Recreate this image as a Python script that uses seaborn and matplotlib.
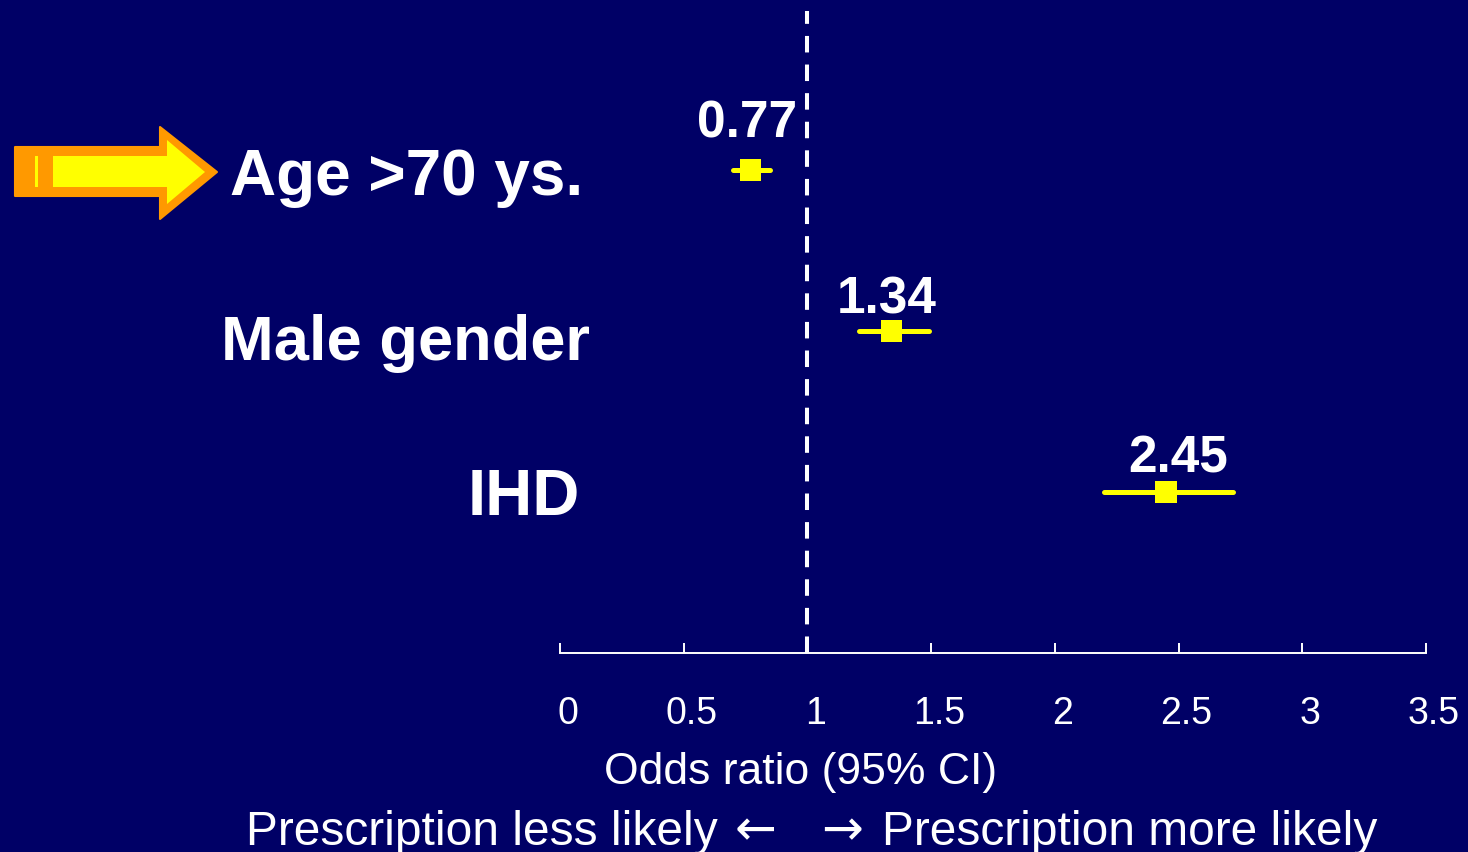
import matplotlib
matplotlib.use("Agg")
import matplotlib.pyplot as plt
import matplotlib.transforms as mtransforms
from matplotlib.patches import Polygon, Rectangle
import pandas as pd
import seaborn as sns

# ---- data ----
factors = ["Age >70 ys.", "Male gender", "IHD"]
odds_ratio = [0.77, 1.34, 2.45]
ci_low = [0.70, 1.21, 2.20]
ci_high = [0.85, 1.49, 2.72]
x_ticks = [0, 0.5, 1, 1.5, 2, 2.5, 3, 3.5]
x_tick_labels = ["0", "0.5", "1", "1.5", "2", "2.5", "3", "3.5"]

BG = "#000066"
YELLOW = "#FFFF00"
ORANGE = "#FF9900"
W, H = 1468, 853

sns.set_theme(style="white")
plt.rcParams["font.family"] = ["Liberation Sans", "DejaVu Sans"]

fig = plt.figure(figsize=(W / 100, H / 100), dpi=100, facecolor=BG)
ax = fig.add_axes([560 / W, (H - 654) / H, 866 / W, 654 / H])
ax.set_facecolor(BG)

df = pd.DataFrame({"factor": factors, "or": odds_ratio,
                   "lo": ci_low, "hi": ci_high})
df["row"] = range(len(df))

# reference line at OR = 1
ax.axvline(1.0, ymin=0, ymax=(654 - 12) / 654, color="white",
           lw=2.9, linestyle=(0, (4.1, 3.0)), zorder=1)

# confidence intervals
ci = ax.hlines(df["row"], df["lo"], df["hi"], color=YELLOW, lw=3.6, zorder=2)
ci.set_capstyle("round")

# point estimates
sns.scatterplot(data=df, x="or", y="row", marker="s", s=240, color=YELLOW,
                edgecolor="none", linewidth=0, ax=ax, zorder=3, legend=False)

ax.set_xlim(0, 3.5)
ax.set_ylim(3.0, -171 / 161)

# value labels above each marker (offsets in pixels)
label_offsets = [(-3.5, 34), (-4.5, 19), (11.5, 20)]
for (_, r), (dx, dy) in zip(df.iterrows(), label_offsets):
    ax.annotate(f"{r['or']:.2f}", (r["or"], r["row"]), xytext=(dx, dy),
                textcoords="offset pixels", ha="center", va="baseline",
                fontsize=37, fontweight="bold", color="white")

# factor names on the left
name_pos = [(230, 195, 46), (221, 360, 45.5), (468, 515, 47)]
for name, (px, py, fs) in zip(factors, name_pos):
    fig.text(px / W, 1 - py / H, name, ha="left", va="baseline",
             fontsize=fs, fontweight="bold", color="white")

# axis styling
for side in ["top", "left", "right"]:
    ax.spines[side].set_visible(False)
ax.spines["bottom"].set_color("white")
ax.spines["bottom"].set_linewidth(1.4)
ax.set_yticks([])
ax.set_xticks(x_ticks)
ax.set_xticklabels(x_tick_labels)
ax.tick_params(axis="x", direction="in", length=7.2, width=1.4,
               colors="white", labelsize=27, pad=30.5, bottom=True)
shift = mtransforms.ScaledTranslation(8 / 100, 0, fig.dpi_scale_trans)
for lab in ax.get_xticklabels():
    lab.set_transform(lab.get_transform() + shift)
ax.set_xlabel("")
ax.set_ylabel("")

fig.text(800.5 / W, 1 - 784 / H, "Odds ratio (95% CI)", ha="center",
         va="baseline", fontsize=32, color="white")

# direction caption under the axis
base = 1 - 845 / H
fig.text(718 / W, base, "Prescription less likely", ha="right",
         va="baseline", fontsize=34.5, color="white")
fig.text(882 / W, base, "Prescription more likely", ha="left",
         va="baseline", fontsize=34.5, color="white")
fig.text(756 / W, base, "\u2190", ha="center", va="baseline",
         fontsize=36, color="white", family="DejaVu Sans")
fig.text(842 / W, base, "\u2192", ha="center", va="baseline",
         fontsize=36, color="white", family="DejaVu Sans")


# highlight arrow pointing at the first factor
def fpts(pts):
    return [(x / W, 1 - y / H) for x, y in pts]


outer = [(15, 148), (160, 148), (160, 128), (217, 173), (160, 220),
         (160, 197), (15, 197)]
inner = [(53, 157), (167, 157), (167, 141), (205, 173), (167, 205),
         (167, 188), (53, 188)]
fig.patches.append(Polygon(fpts(outer), closed=True, facecolor=ORANGE,
                           edgecolor=ORANGE, lw=1.5, joinstyle="round",
                           transform=fig.transFigure))
fig.patches.append(Polygon(fpts(inner), closed=True, facecolor=YELLOW,
                           edgecolor="none", transform=fig.transFigure))
fig.patches.append(Rectangle((35 / W, 1 - 188 / H), 3 / W, 31 / H,
                             facecolor=YELLOW, edgecolor="none",
                             transform=fig.transFigure))

fig.savefig("out.png", dpi=100, facecolor=BG)
